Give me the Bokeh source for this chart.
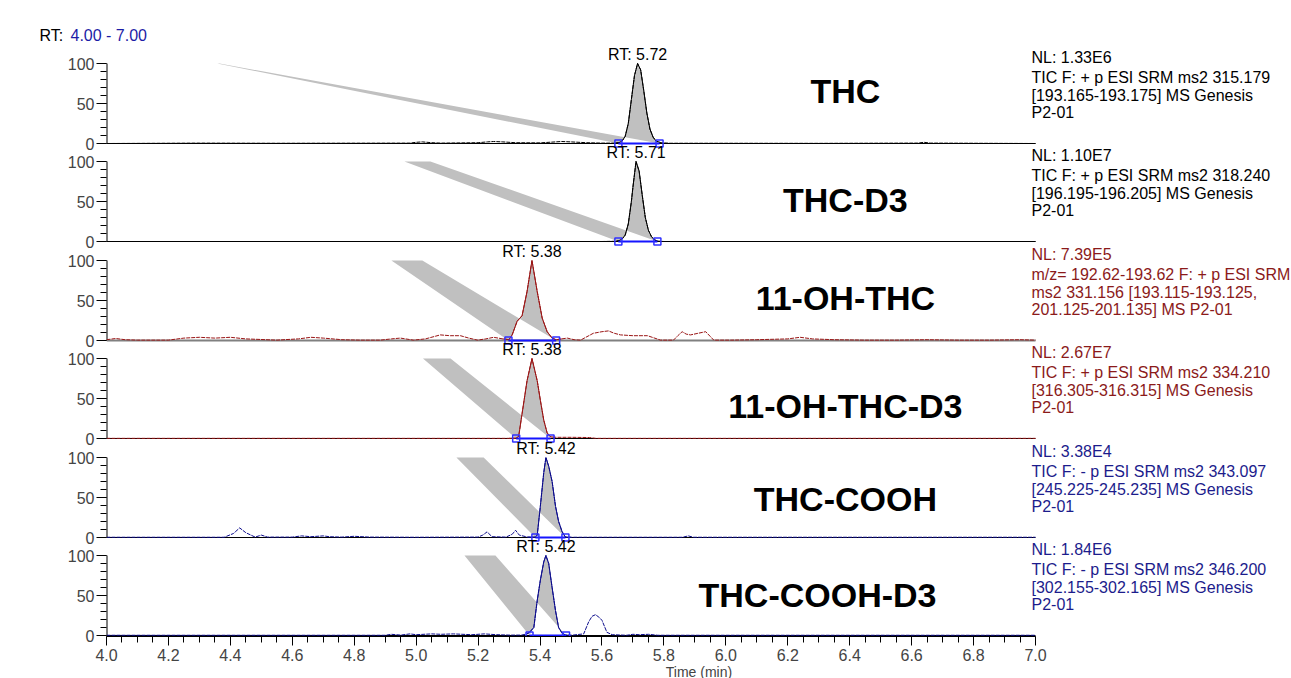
from bokeh.plotting import figure
from bokeh.models import Range1d, FixedTicker, PrintfTickFormatter
from bokeh.layouts import column, row
from bokeh.core.properties import value
from bokeh.embed import file_html
from bokeh.resources import INLINE

FONT = "Liberation Sans"

# ---------------- data ----------------
compounds = ["THC", "THC-D3", "11-OH-THC", "11-OH-THC-D3", "THC-COOH", "THC-COOH-D3"]
rt_values = ["5.72", "5.71", "5.38", "5.38", "5.42", "5.42"]
nl_values = ["1.33E6", "1.10E7", "7.39E5", "2.67E7", "3.38E4", "1.84E6"]
scan_info = [
    ["TIC F: + p ESI SRM ms2 315.179", "[193.165-193.175]  MS  Genesis", "P2-01"],
    ["TIC F: + p ESI SRM ms2 318.240", "[196.195-196.205]  MS  Genesis", "P2-01"],
    ["m/z= 192.62-193.62 F: + p ESI SRM", "ms2 331.156 [193.115-193.125,", "201.125-201.135]  MS P2-01"],
    ["TIC F: + p ESI SRM ms2 334.210", "[316.305-316.315]  MS  Genesis", "P2-01"],
    ["TIC F: - p ESI SRM ms2 343.097", "[245.225-245.235]  MS  Genesis", "P2-01"],
    ["TIC F: - p ESI SRM ms2 346.200", "[302.155-302.165]  MS  Genesis", "P2-01"],
]
rt_window = "4.00 - 7.00"

thc_t = [4.00, 4.30, 4.55, 4.98, 5.00, 5.02, 5.05, 5.08, 5.20, 5.23, 5.25, 5.28, 5.32, 5.40, 5.45, 5.47, 5.50,
         5.55, 5.60, 5.640, 5.655, 5.665, 5.675, 5.685, 5.695, 5.705, 5.715, 5.725, 5.735, 5.745, 5.755, 5.765,
         5.775, 5.79, 5.82, 6.00, 6.30, 6.62, 6.64, 6.66, 7.00]
thc_y = [0, 0.5, 0.3, 0.5, 1.5, 2.0, 1.0, 0.5, 1.0, 2.0, 2.5, 2.0, 1.0, 0.8, 2.0, 2.5, 2.0,
         1.0, 0.5, 0.5, 1.0, 3, 9, 25, 55, 85, 100, 92, 66, 38, 18, 8,
         3, 1, 0.3, 0.3, 0.2, 0.5, 1.5, 0.5, 0]

thcd3_t = [4.00, 5.60, 5.645, 5.655, 5.665, 5.675, 5.685, 5.695, 5.700, 5.710, 5.720, 5.730, 5.740, 5.750,
           5.760, 5.770, 5.780, 5.800, 7.00]
thcd3_y = [0, 0, 0.3, 1, 3, 8, 22, 50, 68, 100, 88, 58, 30, 14, 6, 2, 0.5, 0, 0]

ohthc_t = [4.00, 4.03, 4.06, 4.10, 4.20, 4.25, 4.30, 4.35, 4.40, 4.45, 4.55, 4.62, 4.66, 4.70, 4.76, 4.82,
           4.885, 4.92, 4.949, 4.991, 5.03, 5.078, 5.11, 5.143, 5.17, 5.198, 5.225, 5.250, 5.28, 5.300,
           5.310, 5.326, 5.342, 5.358, 5.374, 5.391, 5.407, 5.423, 5.439, 5.452, 5.47, 5.488, 5.51, 5.531,
           5.572, 5.60, 5.621, 5.640, 5.660, 5.70, 5.747, 5.789, 5.831, 5.845, 5.859, 5.872, 5.886, 5.91,
           5.935, 5.961, 6.016, 6.10, 6.20, 6.24, 6.28, 6.35, 6.45, 6.55, 6.65, 6.75, 6.85, 6.95, 7.00]
ohthc_y = [1, 2.5, 1, 0.5, 0.5, 3, 4, 3, 4, 2, 0.5, 2, 4, 3, 1, 0.5,
           0.5, 2, 3, 0.5, 2, 7, 6, 6, 3, 0.5, 2, 4, 2, 1,
           7, 24, 31, 61, 100, 61, 28, 11, 3, 1, 2, 3, 1, 0.5,
           9, 11, 12, 9, 7, 6, 6, 0.5, 0.5, 6, 11, 8, 7, 9,
           11, 0.5, 0.5, 1, 2, 4, 2, 1, 0.5, 0.5, 1, 0.5, 0.5, 1, 0.5]

ohthcd3_t = [4.00, 5.30, 5.323, 5.331, 5.342, 5.358, 5.374, 5.391, 5.401, 5.412, 5.423, 5.434, 5.45, 5.50,
             5.56, 5.58, 7.00]
ohthcd3_y = [0.2, 0.2, 0.5, 2.5, 31, 72, 100, 72, 48, 23, 7, 2, 1.5, 1.5, 1.2, 0.2, 0.2]

cooh_t = [4.00, 4.38, 4.41, 4.43, 4.45, 4.48, 4.50, 4.52, 4.60, 4.63, 4.66, 4.70, 4.72, 4.76, 4.80, 4.85,
          5.00, 5.20, 5.215, 5.229, 5.245, 5.29, 5.31, 5.321, 5.333, 5.36, 5.385, 5.391, 5.401, 5.412,
          5.419, 5.428, 5.439, 5.450, 5.460, 5.471, 5.482, 5.50, 5.86, 5.879, 5.895, 6.20, 6.60, 7.00]
cooh_y = [0.3, 0.3, 5, 12, 6, 0.5, 3, 0.5, 0.5, 2, 1, 2, 1, 0.5, 1.5, 0.5,
          0.3, 0.5, 3, 7, 1, 0.5, 4, 9, 3, 0.5, 0.5, 3, 39, 81,
          100, 89, 70, 39, 20, 7.5, 0.5, 0.3, 0.3, 2, 0.3, 0.3, 0.3, 0.3]

coohd3_t = [4.00, 4.90, 4.92, 4.95, 4.98, 5.00, 5.05, 5.08, 5.12, 5.18, 5.22, 5.26, 5.30, 5.34, 5.358,
            5.366, 5.380, 5.391, 5.401, 5.412, 5.419, 5.428, 5.439, 5.450, 5.460, 5.471, 5.482, 5.50,
            5.541, 5.557, 5.568, 5.579, 5.590, 5.600, 5.616, 5.633, 5.68, 5.70, 5.72, 5.75, 5.78, 6.20, 7.00]
coohd3_y = [0.3, 0.3, 1.5, 0.5, 2, 1, 2, 1.5, 2, 1, 2, 1, 0.5, 0.5, 2,
            4, 10, 44, 69, 92, 100, 90, 60, 31, 10, 3, 0.5, 0.3,
            2, 17, 24, 26, 23, 19, 4, 1, 0.3, 1.5, 1, 1.5, 0.3, 0.3, 0.3]

traces_t = [thc_t, thcd3_t, ohthc_t, ohthcd3_t, cooh_t, coohd3_t]
traces_y = [thc_y, thcd3_y, ohthc_y, ohthcd3_y, cooh_y, coohd3_y]

peak_start = [5.653, 5.653, 5.298, 5.323, 5.385, 5.366]
peak_end = [5.786, 5.779, 5.452, 5.434, 5.482, 5.484]
# top anchors (time, at 100 %) of the exporter's shaded-area artefact
band_top_a = [4.358, 4.962, 4.920, 5.022, 5.130, 5.156]
band_top_b = [4.365, 5.046, 5.020, 5.111, 5.218, 5.256]

x_major = [4.0, 4.2, 4.4, 4.6, 4.8, 5.0, 5.2, 5.4, 5.6, 5.8, 6.0, 6.2, 6.4, 6.6, 6.8, 7.0]
x_labels = ["4.0", "4.2", "4.4", "4.6", "4.8", "5.0", "5.2", "5.4", "5.6", "5.8", "6.0", "6.2", "6.4",
            "6.6", "6.8", "7.0"]
x_minor = [round(4.0 + 0.05 * k, 2) for k in range(61)]
y_major = [0, 50, 100]
y_labels = ["0", "50", "100"]
y_minor = [0, 10, 20, 30, 40, 50, 60, 70, 80, 90, 100]

# ---------------- styling / layout (page pixels) ----------------
trace_colors = ["#000000", "#000000", "#9a1515", "#9a1515", "#0c0c8c", "#0c0c8c"]
text_colors = ["#000000", "#000000", "#8b1a1a", "#8b1a1a", "#1c1c8c", "#1c1c8c"]
baseline_colors = ["#000000", "#000000", "#808080", "#000000", "#000000", "#000000"]
baseline_widths = [1, 1, 2, 1, 1, 1]
zero_line = [143, 241, 340, 438, 537, 635]      # page y of each panel's 0 %
PX_PER_PCT = 0.8                                 # 100 % = 80 px
TOP_H = 45                                       # strip with "RT: 4.00 - 7.00"
FRAME_BOTTOM = 636
FRAME_LEFT, PAGE_W = 106, 1291
PX_PER_MIN = 929 / 3.0
name_x = [6.386, 6.386, 6.386, 6.386, 6.386, 6.296]
name_dy = [27, 38, 37, 47, 41, 39]       # px below the 100 % line
info_dy = [-6, 14, 31.5, 49]             # px below the 100 % line
TXT = "16px"

x_end = 4.0 + (PAGE_W - FRAME_LEFT) / PX_PER_MIN


def pct(dy):
    return 100 - dy / PX_PER_PCT


def add_text(p, x, y, s, color="#000000", align="left", size=TXT, style="normal", x_offset=0,
             range_name="default"):
    p.text(x=[x], y=[y], text=[s], text_font=value(FONT), text_font_size=size, text_font_style=style,
           text_color=color, text_align=align, text_baseline="middle", x_offset=x_offset,
           y_range_name=range_name)


# ---- top strip with the RT window ----
top = figure(width=PAGE_W, height=TOP_H, x_range=Range1d(0, PAGE_W), y_range=Range1d(TOP_H, 0),
             x_axis_location=None, y_axis_location=None, output_backend="svg", toolbar_location=None,
             min_border=0)
top.outline_line_color = None
top.grid.visible = False
add_text(top, 39, 35, "RT:")
add_text(top, 70, 35, rt_window, color="#1c1ca6")

# ---- one figure holding all six stacked chromatograms ----
p = figure(frame_width=PAGE_W - FRAME_LEFT, frame_height=FRAME_BOTTOM - TOP_H,
           x_range=Range1d(4.0, x_end), y_range=Range1d(FRAME_BOTTOM, TOP_H),
           output_backend="svg", toolbar_location=None,
           min_border_left=FRAME_LEFT, min_border_right=0, min_border_top=0, min_border_bottom=0)
p.outline_line_color = None
p.grid.visible = False

# shared left axis: ticks at every panel's 0/50/100 positions
y_tick_pos, y_tick_lab, y_minor_pos = [], [], []
for k in range(6):
    for v, s in zip(y_major, y_labels):
        y_tick_pos.append(zero_line[k] - v * PX_PER_PCT)
        y_tick_lab.append(s)
    for v in y_minor:
        y_minor_pos.append(zero_line[k] - v * PX_PER_PCT)
ya = p.yaxis[0]
ya.ticker = FixedTicker(ticks=y_tick_pos, minor_ticks=y_minor_pos)
ya.major_label_overrides = {t: s for t, s in zip(y_tick_pos, y_tick_lab)}
ya.major_tick_out = 10
ya.major_tick_in = 0
ya.minor_tick_out = 6
ya.minor_tick_in = 0
ya.major_label_standoff = 2
ya.major_label_text_font = FONT
ya.major_label_text_font_size = TXT
ya.major_tick_line_color = "#000000"
ya.axis_line_color = None

xa = p.xaxis[0]
xa.bounds = (x_major[0], x_major[-1])
xa.ticker = FixedTicker(ticks=x_major, minor_ticks=x_minor)
xa.formatter = PrintfTickFormatter(format="%.1f")
xa.major_label_overrides = {t: s for t, s in zip(x_major, x_labels)}
xa.major_tick_out = 9
xa.major_tick_in = 0
xa.minor_tick_out = 6
xa.minor_tick_in = 0
xa.major_label_standoff = 3
xa.major_label_text_font = FONT
xa.major_label_text_font_size = TXT
xa.axis_label = "Time (min)"
xa.axis_label_text_font = FONT
xa.axis_label_text_font_size = "14px"
xa.axis_label_text_font_style = "normal"
xa.axis_label_standoff = 0
xa.axis_line_color = "#000000"

for i in range(6):
    y0 = zero_line[i]
    rn = "p%d" % i
    p.extra_y_ranges[rn] = Range1d((y0 - FRAME_BOTTOM) / PX_PER_PCT, (y0 - TOP_H) / PX_PER_PCT)

    ts, ys = traces_t[i], traces_y[i]
    a, b = peak_start[i], peak_end[i]
    inner = [j for j, t in enumerate(ts) if a < t < b]

    # y axis line of this panel (0..100 %), at the frame edge
    p.line([x_major[0], x_major[0]], [y_major[0], y_major[-1]], line_color="#000000", line_width=2,
           y_range_name=rn)

    # shaded peak area (including the exporter's fill artefact)
    px = [band_top_a[i], a] + [ts[j] for j in inner] + [b, band_top_b[i]]
    py = [100, 0] + [ys[j] for j in inner] + [0, 100]
    p.patch(px, py, fill_color="#c0c0c0", line_color=None, y_range_name=rn)

    # 0 % line
    p.line([x_major[0], x_major[-1]], [0, 0], line_color=baseline_colors[i], line_width=baseline_widths[i],
           y_range_name=rn)

    # trace: noise dashed, peak solid
    p.line(ts, ys, line_color=trace_colors[i], line_width=1, line_dash="4 1", y_range_name=rn)
    seg = [j for j, t in enumerate(ts) if a <= t <= b]
    seg = [max(seg[0] - 1, 0)] + seg + [min(seg[-1] + 1, len(ts) - 1)]
    p.line([ts[j] for j in seg], [ys[j] for j in seg], line_color=trace_colors[i], line_width=1,
           y_range_name=rn)

    # integration baseline and markers
    p.line([a, b], [0, 0], line_color="#1515ff", line_width=2, y_range_name=rn)
    p.scatter([a, b], [0, 0], marker="square", size=7, line_color="#3030ff", line_width=1.5,
              fill_color=None, y_range_name=rn)

    # RT label above apex
    jmax = ys.index(max(ys))
    add_text(p, ts[jmax], pct(-9), "RT: " + rt_values[i], align="center", range_name=rn)

    # compound name
    add_text(p, name_x[i], pct(name_dy[i]), compounds[i], align="center", size="34px", style="bold",
             range_name=rn)

    # scan info on the right
    lines = ["NL: " + nl_values[i]] + scan_info[i]
    for k, s in enumerate(lines):
        add_text(p, x_major[-1], pct(info_dy[k]), s, color=text_colors[i], x_offset=-4, range_name=rn)

layout = column(row(top, spacing=0), row(p, spacing=0), spacing=0)
open("out.html", "w").write(file_html(layout, INLINE))
